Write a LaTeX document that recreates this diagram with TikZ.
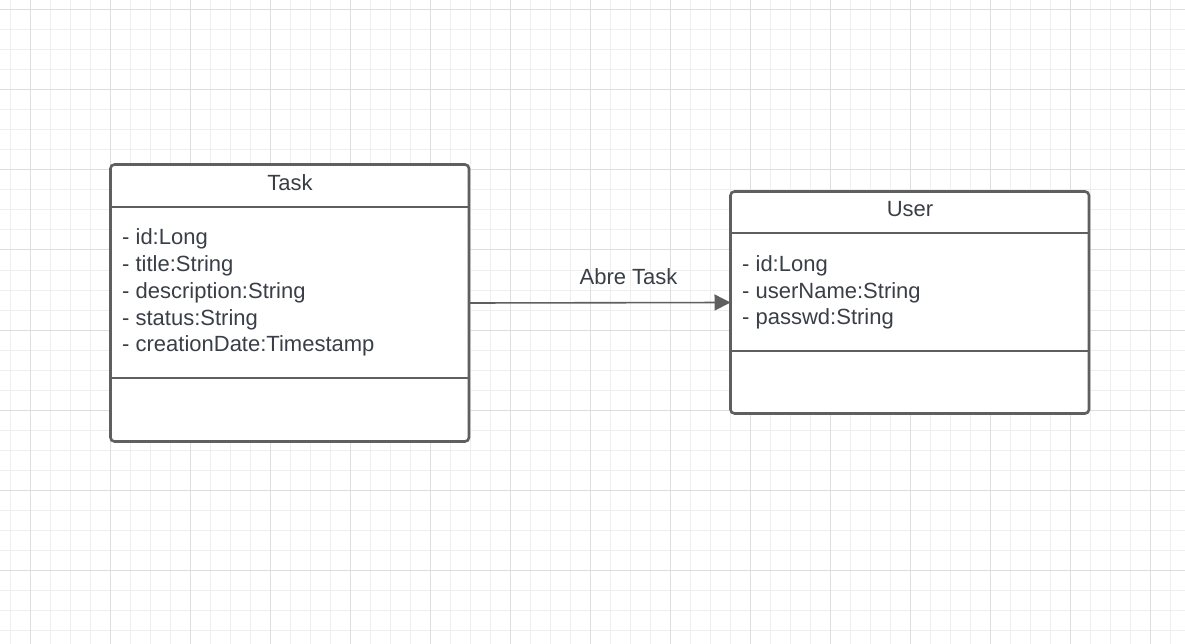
\documentclass[tikz,border=0pt]{standalone}
\usepackage{fontspec}
\setmainfont{Liberation Sans}
\usepackage{tikz}
\usetikzlibrary{arrows.meta,positioning,calc}

\definecolor{gridminor}{HTML}{EEEEEE}
\definecolor{gridmajor}{HTML}{DEDEDE}
\definecolor{boxline}{HTML}{5F5F5F}
\definecolor{txtcol}{HTML}{3A3F47}

\tikzset{
  classbox/.style={draw=boxline,line width=2.6pt,rounded corners=4pt,
    fill=white,anchor=north west,inner sep=0pt,outer sep=0pt},
  sepline/.style={draw=boxline,line width=2.6pt},
  umltxt/.style={text=txtcol,inner sep=0pt,font=\fontsize{22}{26.7}\selectfont},
  assoc/.style={draw=boxline,line width=1.6pt,
    -{Triangle[length=16pt,width=16pt]}}
}

\begin{document}
\begin{tikzpicture}[x=1pt,y=-1pt]
\useasboundingbox (0,0) rectangle (1185,644);
\fill[white] (0,0) rectangle (1185,644);

% grid
\foreach \gx in {10,30,...,1190}
  \draw[gridminor,line width=1pt] (\gx,0) -- (\gx,644);
\foreach \gy in {10,30,...,650}
  \draw[gridminor,line width=1pt] (0,\gy) -- (1185,\gy);
\foreach \gx in {30,110,...,1190}
  \draw[gridmajor,line width=1pt] (\gx,0) -- (\gx,644);
\foreach \gy in {10,90,...,650}
  \draw[gridmajor,line width=1pt] (0,\gy) -- (1185,\gy);

% classes
\node[classbox,minimum width=358.5pt,minimum height=277pt] (task) at (110.5,164.5) {};
\node[classbox,minimum width=358.5pt,minimum height=222pt] (user) at (730.5,191.5) {};

\draw[sepline] ($(task.north west)+(0,42.5)$) -- ($(task.north east)+(0,42.5)$);
\draw[sepline] ($(task.north west)+(0,213.5)$) -- ($(task.north east)+(0,213.5)$);
\draw[sepline] ($(user.north west)+(0,41.5)$) -- ($(user.north east)+(0,41.5)$);
\draw[sepline] ($(user.north west)+(0,159.5)$) -- ($(user.north east)+(0,159.5)$);

\node[umltxt,anchor=base] (tasktitle) at (290,190.5) {Task};
\node[umltxt,anchor=base] (usertitle) at (910,217) {User};

\foreach \attr [count=\i from 0] in {- id:Long,- title:String,
    - description:String,- status:String,- creationDate:Timestamp}
  \node[umltxt,anchor=base west] (taskattr\i) at (122,245+26.7*\i) {\attr};

\foreach \attr [count=\i from 0] in {- id:Long,- userName:String,
    - passwd:String}
  \node[umltxt,anchor=base west] (userattr\i) at (742,271.5+26.7*\i) {\attr};

% association
\draw[assoc] (task.east) -- node[umltxt,pos=0.61,anchor=south,yshift=17pt] (abre) {Abre Task} (user.west);
\end{tikzpicture}
\end{document}
